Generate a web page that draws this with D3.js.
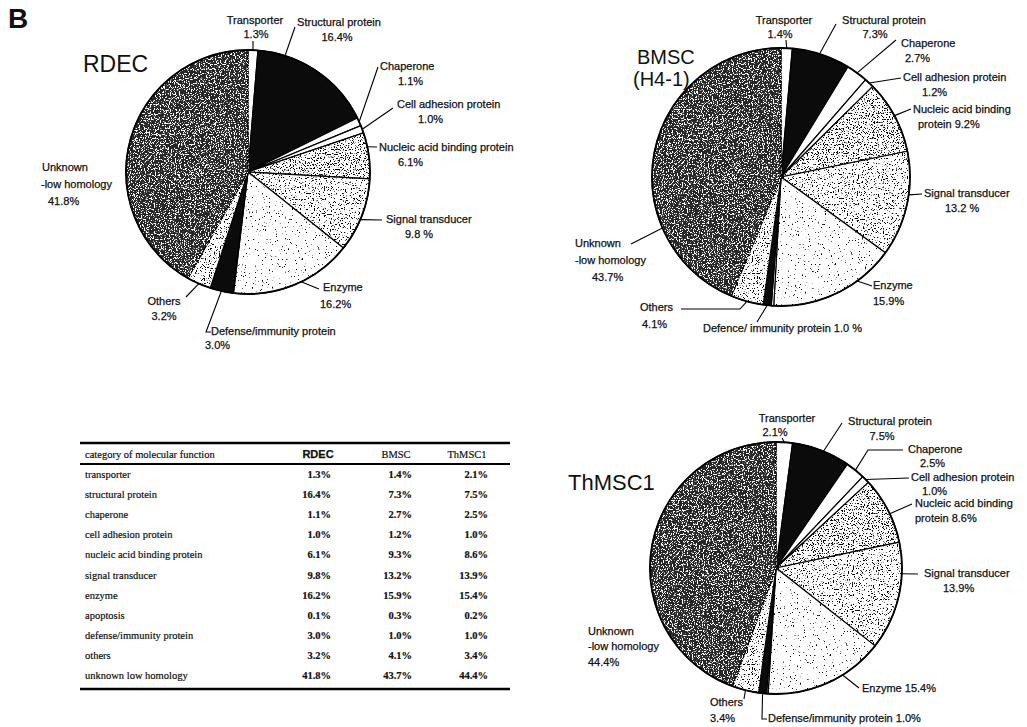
<!DOCTYPE html>
<html>
<head>
<meta charset="utf-8">
<script src="https://cdn.jsdelivr.net/npm/d3@7"></script>
<style>
  html, body { margin: 0; padding: 0; background: #fff; }
  svg { display: block; }
  .lbl { font-family: "Liberation Sans", Arial, Helvetica, sans-serif; font-size: 11px; fill: #111; stroke: #111; stroke-width: 0.25px; }
  .ttl { font-family: "Liberation Sans", Arial, Helvetica, sans-serif; fill: #111; }
  .tbl { font-family: "Liberation Serif", "Times New Roman", serif; font-size: 10.5px; fill: #111; stroke: #111; stroke-width: 0.2px; }
</style>
</head>
<body>
<svg id="fig" width="1027" height="727"></svg>
<script>
// Molecular-function categories (pie order, clockwise from 12 o'clock)
const categories = [
  "transporter", "structural protein", "chaperone", "cell adhesion protein",
  "nucleic acid binding protein", "signal transducer", "enzyme", "apoptosis",
  "defense/immunity protein", "others", "unknown low homology"
];

// Percentages listed in the summary table
const tableRDEC   = [1.3, 16.4, 1.1, 1.0, 6.1, 9.8, 16.2, 0.1, 3.0, 3.2, 41.8];
const tableBMSC   = [1.4, 7.3, 2.7, 1.2, 9.3, 13.2, 15.9, 0.3, 1.0, 4.1, 43.7];
const tableThMSC1 = [2.1, 7.5, 2.5, 1.0, 8.6, 13.9, 15.4, 0.2, 1.0, 3.4, 44.4];

// Percentages shown on the pie charts
const pieRDEC   = [1.3, 16.4, 1.1, 1.0, 6.1, 9.8, 16.2, 0.1, 3.0, 3.2, 41.8];
const pieBMSC   = [1.4, 7.3, 2.7, 1.2, 9.2, 13.2, 15.9, 0.3, 1.0, 4.1, 43.7];
const pieThMSC1 = [2.1, 7.5, 2.5, 1.0, 8.6, 13.9, 15.4, 0.2, 1.0, 3.4, 44.4];

const tableColumns = ["RDEC", "BMSC", "ThMSC1"];

// Shading used for each category
const shading = ["white", "black", "white", "white", "stippleDense", "stippleMid",
                 "stippleSparse", "white", "black", "stippleMid", "grainDark"];

const svg = d3.select("#fig");
const defs = svg.append("defs");
const fmt = d3.format(".1f");

// Grainy screen-like textures
function speckle(id, rgb, slope, offset, freq, seed) {
  const f = defs.append("filter").attr("id", id)
    .attr("x", "-5%").attr("y", "-5%").attr("width", "110%").attr("height", "110%")
    .attr("color-interpolation-filters", "sRGB");
  f.append("feTurbulence").attr("type", "fractalNoise").attr("baseFrequency", freq)
    .attr("numOctaves", 2).attr("seed", seed).attr("result", "noise");
  f.append("feColorMatrix").attr("in", "noise").attr("type", "matrix")
    .attr("values", `0 0 0 0 ${rgb[0]} 0 0 0 0 ${rgb[1]} 0 0 0 0 ${rgb[2]} ${slope} 0 0 0 ${offset}`)
    .attr("result", "spots");
  f.append("feComposite").attr("in", "spots").attr("in2", "SourceGraphic").attr("operator", "in").attr("result", "clipped");
  const m = f.append("feMerge");
  m.append("feMergeNode").attr("in", "SourceGraphic");
  m.append("feMergeNode").attr("in", "clipped");
}
speckle("grainDark", [1, 1, 1], 14, -7.6, 0.8, 4);
speckle("stippleDense", [0, 0, 0], -14, 6.1, 0.8, 7);
speckle("stippleMid", [0, 0, 0], -14, 5.5, 0.8, 11);
speckle("stippleSparse", [0, 0, 0], -14, 4.4, 0.7, 2);

const baseFill = { white: "#fff", black: "#0b0b0b", grainDark: "#262626",
  stippleDense: "#fff", stippleMid: "#fff", stippleSparse: "#fff" };

// Label layout for each pie: text lines [text, x, y, anchor], leader position within slice, leader bends
const labelsRDEC = {
  "transporter": { lines: [["Transporter", 255, 24, "middle"], ["{v}%", 256, 38, "middle"]], frac: 0.5, pts: [[253, 41]] },
  "structural protein": { lines: [["Structural protein", 339, 26, "middle"], ["{v}%", 337, 41, "middle"]], frac: 0.22, pts: [[295, 27]] },
  "chaperone": { lines: [["Chaperone", 380, 70, "start"], ["{v}%", 398, 85, "start"]], frac: 0.5, pts: [[378, 67]] },
  "cell adhesion protein": { lines: [["Cell adhesion protein", 397, 108, "start"], ["{v}%", 418, 123, "start"]], frac: 0.5, pts: [[393, 108]] },
  "nucleic acid binding protein": { lines: [["Nucleic acid binding protein", 379, 151, "start"], ["{v}%", 398, 166, "start"]], frac: 0.31, pts: [[377, 147]] },
  "signal transducer": { lines: [["Signal transducer", 386, 223, "start"], ["{v} %", 405, 238, "start"]], frac: 0.56, pts: [[382, 220]] },
  "enzyme": { lines: [["Enzyme", 323, 291, "start"], ["{v}%", 320, 308, "start"]], frac: 0.44, pts: [[319, 289]] },
  "defense/immunity protein": { lines: [["Defense/immunity protein", 211, 335, "start"], ["{v}%", 205, 349, "start"]], frac: 0.5, pts: [[206, 332], [211, 332]] },
  "others": { lines: [["Others", 164, 305, "middle"], ["{v}%", 164, 320, "middle"]], frac: 0.5, pts: [[186, 297]] },
  "unknown low homology": { lines: [["Unknown", 42, 171, "start"], ["-low homology", 41, 188, "start"], ["{v}%", 48, 205, "start"]] }
};

const labelsBMSC = {
  "transporter": { lines: [["Transporter", 784, 24, "middle"], ["{v}%", 780, 38, "middle"]], frac: 0.5, pts: [[786, 40]] },
  "structural protein": { lines: [["Structural protein", 884, 24, "middle"], ["{v}%", 875, 38, "middle"]], frac: 0.47, pts: [[836, 24]] },
  "chaperone": { lines: [["Chaperone", 901, 47, "start"], ["{v}%", 905, 62, "start"]], frac: 0.5, pts: [[896, 40]] },
  "cell adhesion protein": { lines: [["Cell adhesion protein", 903, 81, "start"], ["{v}%", 922, 96, "start"]], frac: 0.5, pts: [[901, 78]] },
  "nucleic acid binding protein": { lines: [["Nucleic acid binding", 913, 113, "start"], ["protein   {v}%", 918, 128, "start"]], frac: 0.49, pts: [[911, 109]] },
  "signal transducer": { lines: [["Signal transducer", 924, 197, "start"], ["{v} %", 945, 212, "start"]], frac: 0.41, pts: [[922, 194]] },
  "enzyme": { lines: [["Enzyme", 873, 289, "start"], ["{v}%", 873, 305, "start"]], frac: 0.31, pts: [[872, 286]] },
  "defense/immunity protein": { lines: [["Defence/ immunity protein {v} %", 703, 332, "start"]], frac: 0.5, pts: [[757, 322]] },
  "others": { lines: [["Others", 640, 311, "start"], ["{v}%", 642, 328, "start"]], frac: 0.5, pts: [[740, 309], [681, 309]] },
  "unknown low homology": { lines: [["Unknown", 575, 247, "start"], ["-low homology", 575, 264, "start"], ["{v}%", 592, 281, "start"]], frac: 0.28, pts: [[631, 244]] }
};

const labelsThMSC1 = {
  "transporter": { lines: [["Transporter", 787, 422, "middle"], ["{v}%", 775, 436, "middle"]], frac: 0.5, pts: [[782, 438]] },
  "structural protein": { lines: [["Structural protein", 890, 425, "middle"], ["{v}%", 882, 440, "middle"]], frac: 0.54, pts: [[842, 423]] },
  "chaperone": { lines: [["Chaperone", 908, 453, "start"], ["{v}%", 920, 467, "start"]], frac: 0.5, pts: [[868, 450], [903, 450]] },
  "cell adhesion protein": { lines: [["Cell adhesion protein", 911, 481, "start"], ["{v}%", 922, 495, "start"]], frac: 0.5, pts: [[909, 478]] },
  "nucleic acid binding protein": { lines: [["Nucleic acid binding", 915, 507, "start"], ["protein    {v}%", 915, 522, "start"]], frac: 0.56, pts: [[912, 504]] },
  "signal transducer": { lines: [["Signal transducer", 924, 577, "start"], ["{v}%", 943, 592, "start"]], frac: 0.29, pts: [[918, 574]] },
  "enzyme": { lines: [["Enzyme {v}%", 862, 692, "start"]], frac: 0.36, pts: [[859, 688]] },
  "defense/immunity protein": { lines: [["Defense/immunity protein  {v}%", 768, 722, "start"]], frac: 0.5, pts: [[762, 719], [767, 719]] },
  "others": { lines: [["Others", 710, 706, "start"], ["{v}%", 710, 722, "start"]], frac: 0.5, pts: [[744, 699]] },
  "unknown low homology": { lines: [["Unknown", 588, 635, "start"], ["-low homology", 588, 650, "start"], ["{v}%", 588, 666, "start"]] }
};

const charts = [
  { values: pieRDEC, cx: 248, cy: 172, r: 122, labels: labelsRDEC,
    title: [["RDEC", 83, 72]], titleSize: 23 },
  { values: pieBMSC, cx: 781, cy: 177, r: 129, labels: labelsBMSC,
    title: [["BMSC", 637, 64], ["(H4-1)", 633, 86]], titleSize: 20 },
  { values: pieThMSC1, cx: 776, cy: 568, r: 126, labels: labelsThMSC1,
    title: [["ThMSC1", 568, 490]], titleSize: 22 }
];

// Panel letter
svg.append("text").attr("class", "ttl").attr("x", 8).attr("y", 28)
  .attr("font-size", 28).attr("font-weight", "bold").text("B");

function drawPie(c) {
  const g = svg.append("g");
  const arcs = d3.pie().sort(null).value(d => d)(c.values);
  const arc = d3.arc().innerRadius(0).outerRadius(c.r);
  const cx = c.cx, cy = c.cy;

  g.selectAll("path.slice").data(arcs).enter().append("path")
    .attr("class", "slice")
    .attr("transform", `translate(${cx},${cy})`)
    .attr("d", arc)
    .attr("fill", (d, i) => baseFill[shading[i]])
    .attr("filter", (d, i) => shading[i].startsWith("stipple") || shading[i] === "grainDark" ? `url(#${shading[i]})` : null)
    .attr("stroke", "#000").attr("stroke-width", 1.2).attr("stroke-linejoin", "round");

  g.append("circle").attr("cx", cx).attr("cy", cy).attr("r", c.r)
    .attr("fill", "none").attr("stroke", "#000").attr("stroke-width", 1.8);

  // Leader lines and labels
  arcs.forEach((d, i) => {
    const spec = c.labels[categories[i]];
    if (!spec) return;
    if (spec.pts) {
      const a = d.startAngle + spec.frac * (d.endAngle - d.startAngle);
      const p0 = [cx + c.r * Math.sin(a), cy - c.r * Math.cos(a)];
      g.append("path").attr("d", d3.line()([p0, ...spec.pts]))
        .attr("fill", "none").attr("stroke", "#000").attr("stroke-width", 1.1);
    }
    spec.lines.forEach(([t, x, y, anchor]) => {
      g.append("text").attr("class", "lbl").attr("x", x).attr("y", y)
        .attr("text-anchor", anchor).text(t.replace("{v}", fmt(d.data)));
    });
  });

  c.title.forEach(([t, x, y]) => {
    g.append("text").attr("class", "ttl").attr("x", x).attr("y", y)
      .attr("font-size", c.titleSize).text(t);
  });
}
charts.forEach(drawPie);

// Summary table
const tbl = { left: 80, right: 510, top: 443, headY: 458, headRule: 464, firstRow: 478, rowStep: 20.1 };
const colRight = [331, 412, 488];
const colHead = [318, 396, 467];
const tableData = [tableRDEC, tableBMSC, tableThMSC1];
const tg = svg.append("g");
const rowY = d3.scalePoint().domain(categories).range([tbl.firstRow, tbl.firstRow + tbl.rowStep * (categories.length - 1)]);

tg.append("line").attr("x1", tbl.left).attr("x2", tbl.right).attr("y1", tbl.top).attr("y2", tbl.top)
  .attr("stroke", "#000").attr("stroke-width", 2.4);
tg.append("line").attr("x1", tbl.left).attr("x2", tbl.right).attr("y1", tbl.headRule).attr("y2", tbl.headRule)
  .attr("stroke", "#000").attr("stroke-width", 2);
const bottomY = rowY(categories[categories.length - 1]) + 10;
tg.append("line").attr("x1", tbl.left).attr("x2", tbl.right).attr("y1", bottomY).attr("y2", bottomY)
  .attr("stroke", "#000").attr("stroke-width", 2.6);

tg.append("text").attr("class", "tbl").attr("x", tbl.left + 5).attr("y", tbl.headY)
  .attr("font-size", 11.5).text("category of molecular function");
tableColumns.forEach((name, j) => {
  tg.append("text").attr("class", j === 0 ? "lbl" : "tbl").attr("x", colHead[j]).attr("y", tbl.headY)
    .attr("text-anchor", "middle").attr("font-size", j === 0 ? 10.5 : 11)
    .attr("font-weight", j === 0 ? "bold" : null).text(name);
});

categories.forEach((cat, i) => {
  const y = rowY(cat);
  tg.append("text").attr("class", "tbl").attr("x", tbl.left + 5).attr("y", y).text(cat);
  tableData.forEach((col, j) => {
    tg.append("text").attr("class", "tbl").attr("x", colRight[j]).attr("y", y)
      .attr("text-anchor", "end").attr("font-weight", "bold").text(fmt(col[i]) + "%");
  });
});
</script>
</body>
</html>
